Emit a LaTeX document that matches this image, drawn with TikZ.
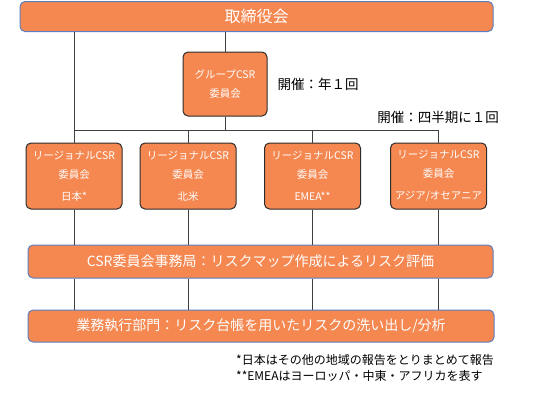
\documentclass[tikz,border=0pt]{standalone}
\usepackage{fontspec}
\setmainfont{Noto Sans CJK JP}
\usetikzlibrary{positioning,calc}
\definecolor{OrgOrange}{RGB}{245,135,80}
\definecolor{OrgBlue}{RGB}{90,126,192}
\definecolor{OrgEdge}{RGB}{45,45,45}
\definecolor{OrgLine}{RGB}{64,64,64}
\tikzset{
  org bar/.style={
    draw=OrgBlue,
    fill=OrgOrange,
    line width=1pt,
    rounded corners=5pt,
    text=white,
    inner sep=0pt,
    minimum height=30pt
  },
  org box/.style={
    draw=OrgEdge,
    fill=OrgOrange,
    line width=1pt,
    rounded corners=5pt,
    text=white,
    align=center,
    inner sep=0pt,
    font=\fontsize{10.5}{19}\selectfont
  },
  org note/.style={font=\fontsize{13.5}{17}\selectfont, text=black, inner sep=0pt},
  org line/.style={draw=OrgLine, line width=0.9pt}
}
\begin{document}
\begin{tikzpicture}[x=1pt, y=-1pt]
\useasboundingbox (0,0) rectangle (533,397);
% board and group committee
\node[org bar, minimum width=473pt, font=\fontsize{16}{19}\selectfont] (board) at (256.5,16.5) {取締役会};
\node[org box, minimum width=84pt, minimum height=64pt] (group) at (225,84) {グループCSR\\委員会};
\node[org note, right=10pt of group] (yearly) {開催：年１回};
\node[org note, anchor=east] (quarterly) at (499,117) {開催：四半期に１回};
% regional committees
\node[org box, minimum width=96pt, minimum height=66pt] (japan) at (74,176) {リージョナルCSR\\委員会\\[3pt]日本*};
\node[org box, minimum width=96pt, minimum height=66pt] (america) at (188,176) {リージョナルCSR\\委員会\\[3pt]北米};
\node[org box, minimum width=96pt, minimum height=66pt] (emea) at (312.5,176) {リージョナルCSR\\委員会\\[3pt]EMEA**};
\node[org box, minimum width=96pt, minimum height=66pt] (apac) at (438.5,176) {リージョナルCSR\\委員会\\[3pt]アジア/オセアニア};
% secretariat and business units
\node[org bar, minimum width=465pt, minimum height=33pt, font=\fontsize{14}{17}\selectfont] (office) at (260.5,261.5) {CSR委員会事務局：リスクマップ作成によるリスク評価};
\node[org bar, minimum width=466pt, minimum height=32pt, font=\fontsize{14}{17}\selectfont] (units) at (261,326) {業務執行部門：リスク台帳を用いたリスクの洗い出し/分析};
\node[font=\fontsize{12}{16}\selectfont, align=left, anchor=north west, inner sep=0pt] (notes) at (236,354) {*日本はその他の地域の報告をとりまとめて報告\\**EMEAはヨーロッパ・中東・アフリカを表す};
\coordinate (bus) at (0,130);
% connectors
\draw[org line] (board.south -| japan.north) -- (japan.north);
\draw[org line] (board.south -| group.north) -- (group.north);
\draw[org line] (group.south) -- (group.south |- bus);
\draw[org line] (japan.north |- bus) -- (apac.north |- bus);
\foreach \r in {america,emea,apac}
  \draw[org line] (\r.north |- bus) -- (\r.north);
\foreach \r in {japan,america,emea,apac} {
  \draw[org line] (\r.south) -- (\r.south |- office.north);
  \draw[org line] (\r.south |- office.south) -- (\r.south |- units.north);
}
\end{tikzpicture}
\end{document}
